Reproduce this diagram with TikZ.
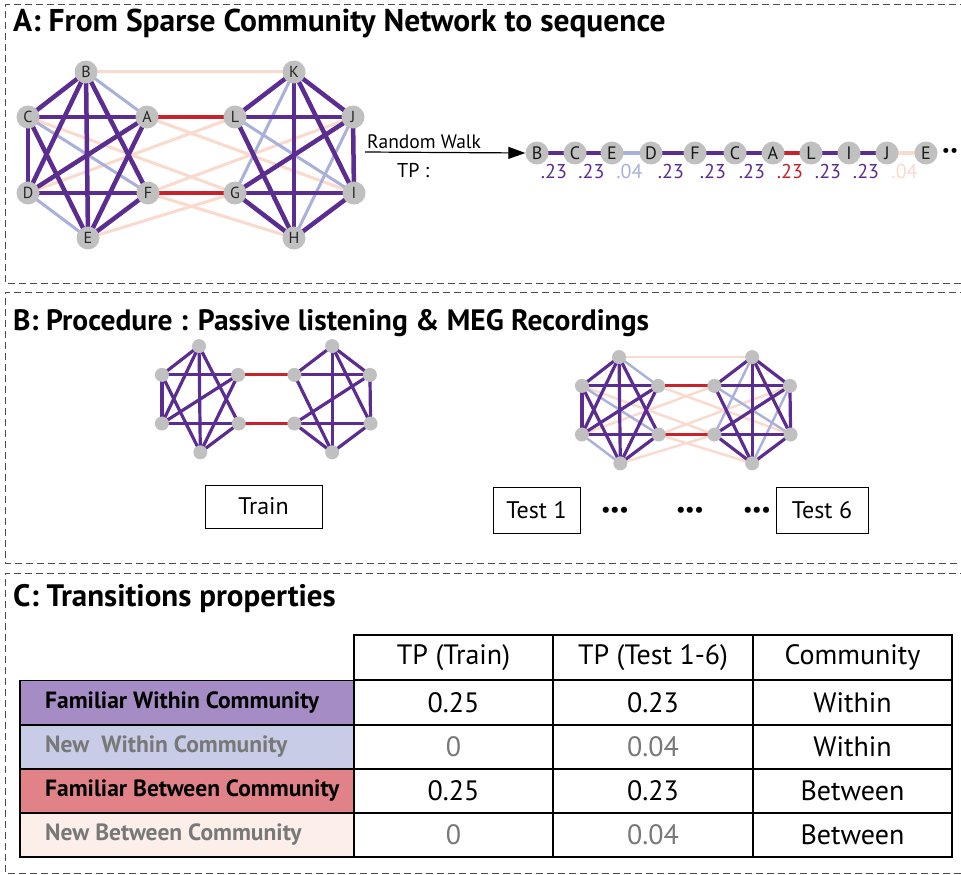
\documentclass[tikz,border=0pt]{standalone}
\usepackage{fontspec}
\setmainfont{PT Sans}
\usetikzlibrary{arrows.meta}
\pgfdeclarelayer{bg}
\pgfsetlayers{bg,main}
\definecolor{cpur}{RGB}{92,45,145}
\definecolor{cblu}{RGB}{170,176,220}
\definecolor{cred}{RGB}{200,35,45}
\definecolor{cpch}{RGB}{250,218,205}
\definecolor{cnode}{RGB}{192,192,192}
\definecolor{rowpur}{RGB}{166,140,196}
\definecolor{rowblu}{RGB}{200,204,230}
\definecolor{rowred}{RGB}{224,130,135}
\definecolor{rowpch}{RGB}{252,238,232}
\definecolor{txtgray}{RGB}{120,120,120}
\tikzset{
  panel/.style={draw=black!70, line width=1pt, dash pattern=on 7pt off 4pt},
  netnode/.style={circle, fill=cnode, inner sep=0pt, text=black!85, font=\fontsize{16}{16}\selectfont},
  seqnode/.style={circle, fill=cnode, inner sep=0pt, minimum size=23pt, text=black!90, font=\fontsize{18}{18}\selectfont},
  tplab/.style={font=\fontsize{20}{20}\selectfont, inner sep=0pt},
  ptitle/.style={anchor=base west, inner sep=0pt},
  labbox/.style={draw=black, line width=1pt, font=\fontsize{24}{24}\selectfont, inner sep=0pt},
  cell/.style={draw=black, line width=1.8pt, inner sep=0pt, font=\fontsize{28}{28}\selectfont},
  rowlab/.style={anchor=west, inner sep=0pt, font=\fontsize{23.5}{23.5}\selectfont\bfseries},
  dots/.style={inner sep=0pt, font=\fontsize{20}{20}\selectfont\bfseries},
}
% #1 prefix, #2 shift x, #3 shift y, #4 scale, #5 node diameter, #6 mode (0 train,1 test,2 labelled), #7 thick width, #8 thin width
\newcommand\mynet[8]{%
  \begin{scope}[shift={(#2,#3)}, scale=#4,
      purE/.style={draw=cpur, line width=#7},
      redE/.style={draw=cred, line width=#7},
      bluE/.style={draw=cblu, line width=#8},
      pchE/.style={draw=cpch, line width=#8}]
    \foreach \n/\x/\y in {B/86/72,C/28/117,A/147/117,D/28/193,F/148/193,E/88/238,K/294/72,L/235/117,J/353/117,G/235/193,I/354/193,H/294/238}{
      \node[netnode, minimum size=#5] (#1\n) at (\x,\y) {\ifnum#6=2 \n\fi};
    }
    \begin{pgfonlayer}{bg}
      \ifnum#6>0
        \foreach \a/\b in {B/K,A/I,C/G,D/L,F/J,E/G,F/H}
          \draw[pchE] (#1\a.center) -- (#1\b.center);
        \foreach \a/\b in {B/A,C/F,D/E,K/G,L/I,J/H}
          \draw[bluE] (#1\a.center) -- (#1\b.center);
      \fi
      \foreach \a/\b in {B/C,B/D,B/E,B/F,C/A,C/D,C/E,A/D,A/E,D/F,F/E,K/L,K/J,K/H,K/I,L/J,L/H,G/J,G/I,G/H,I/H,J/I}
        \draw[purE] (#1\a.center) -- (#1\b.center);
      \foreach \a/\b in {A/L,F/G}
        \draw[redE] (#1\a.center) -- (#1\b.center);
    \end{pgfonlayer}
  \end{scope}}
\begin{document}
\begin{tikzpicture}[x=1pt, y=-1pt]
\useasboundingbox (0,0) rectangle (961,875);
\begin{pgfonlayer}{bg}
\fill[white] (0,0) rectangle (961,875);
\end{pgfonlayer}
% panels
\draw[panel] (1000,5) -- (5,5) -- (5,283) -- (1000,283);
\draw[panel] (1000,292) -- (5,292) -- (5,563) -- (1000,563);
\draw[panel] (1000,573) -- (5,573) -- (5,873) -- (1000,873);
\node[ptitle, font=\fontsize{31.5}{31.5}\selectfont\bfseries] (tA) at (13,32) {A: From Sparse Community Network to sequence};
\node[ptitle, font=\fontsize{29.5}{29.5}\selectfont\bfseries] (tB) at (13,330) {B: Procedure : Passive listening \& MEG Recordings};
\node[ptitle, font=\fontsize{31}{31}\selectfont\bfseries] (tC) at (13,606) {C: Transitions properties};

% Panel A network
\mynet{a}{0}{0}{1}{23pt}{2}{4.5pt}{3pt}

% random walk sequence
\foreach \i/\l/\x in {1/B/537,2/C/575,3/E/612,4/D/651,5/F/695,6/C/735,7/A/773,8/L/811,9/I/849,10/J/887,11/E/926}{
  \node[seqnode] (s\i) at (\x,153) {\l};
}
\begin{pgfonlayer}{bg}
\foreach \a/\b/\c in {1/2/cpur,2/3/cpur,3/4/cblu,4/5/cpur,5/6/cpur,6/7/cpur,7/8/cred,8/9/cpur,9/10/cpur,10/11/cpch}
  \draw[draw=\c, line width=4pt] (s\a.center) -- (s\b.center);
\end{pgfonlayer}
\coordinate (rw) at (365,152);
\draw[line width=1.2pt, -{Triangle[length=17pt,width=12pt]}] (rw) -- (s1.west);
\node[anchor=base west, inner sep=0pt, font=\fontsize{19.5}{19.5}\selectfont] (rwt) at (367,148) {Random Walk};
\node[tplab, anchor=west] (tp) at (397,171) {TP :};
\foreach \a/\b/\c/\t in {1/2/cpur/.23,2/3/cpur/.23,3/4/cblu/.04,4/5/cpur/.23,5/6/cpur/.23,6/7/cpur/.23,7/8/cred/.23,8/9/cpur/.23,9/10/cpur/.23,10/11/cpch/.04}{
  \path (s\a.center) -- (s\b.center) node[tplab, text=\c, pos=0.5, yshift=-18pt, xshift=-2pt] (v\a) {\t};
}
\node[inner sep=0pt, font=\fontsize{18}{18}\selectfont] (sdots) at (950,152) {••};

% Panel B networks
\mynet{t}{144}{300}{0.64}{14pt}{0}{3.2pt}{2.4pt}
\mynet{u}{564}{311}{0.64}{14pt}{1}{3.2pt}{2.4pt}
\node[labbox, minimum width=117pt, minimum height=43pt] (train) at (263.5,506.5) {Train};
\node[labbox, minimum width=87pt, minimum height=46pt] (test1) at (536.5,510) {Test 1};
\node[labbox, minimum width=92pt, minimum height=46pt] (test6) at (822,510) {Test 6};
\node[dots] (d1) at (615,512) {•••};
\node[dots] (d2) at (690,512) {•••};
\node[dots] (d3) at (757,512) {•••};

% Panel C table
\foreach \c/\x/\w/\t in {2/453.5/199/TP (Train),3/653/200/TP (Test 1-6),4/852.5/199/Community}{
  \node[cell, minimum width=\w pt, minimum height=45pt] (h\c) at (\x,657.5) {\t};
}
\foreach \r/\y/\f/\l/\tc/\va/\vb/\vc in {
  1/702.5/rowpur/Familiar Within Community/black/0.25/0.23/Within,
  2/747/rowblu/New\ \ Within Community/txtgray/0/0.04/Within,
  3/791/rowred/Familiar Between Community/black/0.25/0.23/Between,
  4/835/rowpch/New Between Community/txtgray/0/0.04/Between}{
  \node[cell, fill=\f, minimum width=334pt, minimum height=44pt] (r\r) at (187,\y) {};
  \node[rowlab, text=\tc] (rl\r) at (45,\y) {\l};
  \node[cell, minimum width=199pt, minimum height=44pt, text=\tc] (c\r a) at (453.5,\y) {\va};
  \node[cell, minimum width=200pt, minimum height=44pt, text=\tc] (c\r b) at (653,\y) {\vb};
  \node[cell, minimum width=199pt, minimum height=44pt] (c\r c) at (852.5,\y) {\vc};
}
\end{tikzpicture}
\end{document}
